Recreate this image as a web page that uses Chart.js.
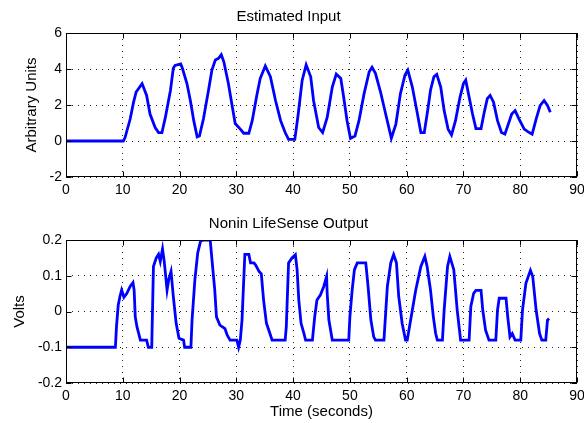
<!DOCTYPE html>
<html>
<head>
<meta charset="utf-8">
<script src="https://cdn.jsdelivr.net/npm/chart.js@4/dist/chart.umd.min.js"></script>
<style>
  body { margin: 0; background: #fff; }
  #wrap { position: relative; width: 584px; height: 423px; background: #fff; }
  #wrap canvas { position: absolute; left: 0; }
</style>
</head>
<body>
<div id="wrap">
  <canvas id="inputChart" width="584" height="200" style="top:0"></canvas>
  <canvas id="outputChart" width="584" height="223" style="top:200px"></canvas>
</div>
<script>
// estimated input (arbitrary units)
const inputTime = [
  0, 10.1, 10.4, 11.3, 11.9, 12.35, 13.4, 14.2, 14.8, 15.7,
  16.3, 16.9, 17.5, 18.4, 18.9, 19.2, 20.2, 20.5, 21.3, 21.9,
  22.5, 23.1, 23.5, 24.2, 25.1, 25.7, 26.3, 26.9, 27.35, 27.8,
  28.6, 29.2, 29.8, 30.7, 31.3, 32.2, 32.8, 33.6, 34.2, 35.1,
  36.0, 36.9, 37.8, 38.6, 39.2, 40.3, 40.9, 41.6, 42.3, 43.1,
  43.6, 44.5, 45.2, 46.0, 46.9, 47.6, 48.4, 48.9, 49.5, 50.1,
  50.9, 51.6, 52.5, 53.4, 53.9, 54.5, 55.4, 56.3, 57.0, 57.3,
  58.1, 58.9, 59.7, 60.2, 61.0, 61.9, 62.5, 63.1, 63.7, 64.2,
  64.8, 65.3, 66.0, 66.6, 67.3, 67.9, 68.6, 69.4, 70.0, 70.4,
  71.0, 71.6, 72.2, 73.1, 73.6, 74.2, 74.7, 75.3, 76.0, 76.7,
  77.3, 77.9, 78.5, 79.1, 79.8, 80.7, 81.6, 82.1, 82.8, 83.5,
  84.2, 84.8, 85.3
];
const inputValue = [
  0, 0, 0.19, 1.22, 2.16, 2.72, 3.19, 2.53, 1.5, 0.75,
  0.47, 0.47, 1.31, 2.82, 4.04, 4.2, 4.28, 4.04, 3.19, 2.25,
  1.13, 0.23, 0.28, 1.22, 2.82, 3.94, 4.5, 4.6, 4.79, 4.4,
  3.19, 2.07, 0.97, 0.66, 0.43, 0.43, 1.13, 2.53, 3.47, 4.17,
  3.57, 2.25, 1.13, 0.47, 0.09, 0.09, 1.5, 3.38, 4.23, 3.57,
  2.25, 0.75, 0.47, 1.31, 3.0, 3.72, 3.47, 2.44, 1.13, 0.15,
  0.28, 1.13, 2.63, 3.85, 4.1, 3.76, 2.72, 1.5, 0.56, 0.15,
  0.94, 2.63, 3.66, 3.94, 3.0, 1.5, 0.47, 0.47, 1.69, 2.82,
  3.57, 3.7, 3.0, 1.69, 0.66, 0.34, 1.13, 2.44, 3.19, 3.38,
  2.44, 1.5, 0.69, 0.69, 1.5, 2.35, 2.53, 2.16, 1.13, 0.47,
  0.38, 0.94, 1.5, 1.69, 1.22, 0.66, 0.47, 0.38, 1.22, 1.97,
  2.25, 1.97, 1.6
];

// sensor output (volts)
const outputTime = [
  0, 8.7, 8.9, 9.2, 9.5, 9.8, 10.2, 10.7, 11.3, 11.8,
  12.0, 12.2, 12.5, 12.8, 13.1, 14.2, 14.5, 15.1, 15.4, 15.9,
  16.3, 16.6, 17.0, 17.3, 17.8, 18.1, 18.5, 18.9, 19.4, 19.9,
  20.7, 20.9, 22.0, 22.2, 22.7, 23.2, 23.7, 24.2, 25.4, 25.6,
  26.2, 26.5, 27.1, 28.0, 28.4, 28.9, 30.1, 30.4, 30.7, 31.0,
  31.5, 32.2, 32.5, 33.1, 33.4, 34.0, 34.4, 34.8, 35.3, 35.9,
  36.3, 38.6, 38.8, 39.2, 39.8, 40.4, 40.7, 41.0, 41.4, 41.9,
  42.2, 43.4, 43.8, 44.2, 44.8, 45.4, 45.9, 46.0, 46.3, 46.9,
  49.8, 50.0, 50.4, 50.8, 51.3, 52.8, 53.2, 53.7, 54.2, 54.5,
  56.0, 56.6, 57.2, 57.7, 58.2, 58.6, 59.2, 59.8, 60.1, 60.7,
  61.6, 62.5, 63.2, 63.6, 64.2, 64.7, 65.1, 65.4, 66.3, 66.6,
  67.2, 67.6, 68.3, 68.9, 69.5, 71.0, 71.3, 71.8, 72.2, 73.1,
  73.4, 73.9, 74.5, 75.7, 76.0, 76.3, 77.5, 77.8, 78.2, 78.6,
  79.1, 80.1, 80.4, 81.0, 81.8, 82.2, 82.8, 83.4, 83.8, 84.5,
  84.8, 85.1
];
const outputValue = [
  -0.1, -0.1, -0.04, 0.018, 0.042, 0.06, 0.04, 0.05, 0.07, 0.081,
  0.06, -0.015, -0.043, -0.061, -0.08, -0.08, -0.1, -0.1, 0.126, 0.15,
  0.16, 0.14, 0.175, 0.14, 0.06, 0.09, 0.112, 0.042, -0.033, -0.075,
  -0.08, -0.1, -0.1, -0.024, 0.089, 0.164, 0.197, 0.2, 0.2, 0.164,
  0.06, -0.015, -0.038, -0.048, -0.066, -0.08, -0.08, -0.1, -0.08, -0.024,
  0.16, 0.16, 0.136, 0.136, 0.13, 0.112, 0.105, 0.032, -0.033, -0.061,
  -0.08, -0.08, -0.043, 0.136, 0.15, 0.159, 0.117, 0.032, -0.033, -0.061,
  -0.08, -0.08, -0.015, 0.032, 0.046, 0.07, 0.098, 0.051, -0.024, -0.08,
  -0.08, -0.015, 0.06, 0.117, 0.136, 0.136, 0.07, -0.024, -0.071, -0.08,
  -0.08, 0.07, 0.136, 0.159, 0.136, 0.042, -0.033, -0.08, -0.08, -0.024,
  0.06, 0.126, 0.154, 0.126, 0.06, -0.015, -0.061, -0.08, -0.08, 0.004,
  0.126, 0.154, 0.117, 0.004, -0.08, -0.08, 0.014, 0.051, 0.059, 0.059,
  0.004, -0.052, -0.08, -0.08, 0.004, 0.037, 0.037, -0.015, -0.071, -0.062,
  -0.08, -0.08, 0.004, 0.079, 0.115, 0.098, 0.004, -0.061, -0.08, -0.08,
  -0.024, -0.02
];

const timeTicks = { min: 0, max: 90, step: 10 };
const inputTicks = { min: -2, max: 6, step: 2 };
const outputTicks = { min: -0.2, max: 0.2, step: 0.1 };

Chart.defaults.font.family = '"Liberation Sans", Arial, sans-serif';
Chart.defaults.color = '#000';
Chart.defaults.animation = false;

// matlab style: closed box with inward tick marks
const boxPlugin = {
  id: 'matlabBox',
  afterDatasetsDraw(chart) {
    const { ctx, chartArea: a, scales: { x, y } } = chart;
    const L = Math.round(a.left) + 0.5, R = Math.round(a.right) - 0.5;
    const T = Math.round(a.top) + 0.5, B = Math.round(a.bottom) - 0.5;
    ctx.save();
    ctx.strokeStyle = '#000';
    ctx.lineWidth = 1;
    ctx.strokeRect(L, T, R - L, B - T);
    ctx.beginPath();
    x.ticks.forEach(t => {
      const px = Math.round(x.getPixelForValue(t.value)) + 0.5;
      ctx.moveTo(px, B); ctx.lineTo(px, B - 5);
      ctx.moveTo(px, T); ctx.lineTo(px, T + 5);
    });
    y.ticks.forEach(t => {
      const py = Math.round(y.getPixelForValue(t.value)) + 0.5;
      ctx.moveTo(L, py); ctx.lineTo(L + 5, py);
      ctx.moveTo(R, py); ctx.lineTo(R - 5, py);
    });
    ctx.stroke();
    ctx.restore();
  }
};

function makeChart(id, xs, ys, opt) {
  const points = xs.map((t, i) => ({ x: t, y: ys[i] }));
  return new Chart(document.getElementById(id), {
    type: 'line',
    data: {
      datasets: [{
        data: points,
        borderColor: '#0000ff',
        borderWidth: 2.8,
        pointRadius: 0,
        tension: 0,
        fill: false
      }]
    },
    options: {
      responsive: false,
      devicePixelRatio: 1,
      layout: { padding: { left: 0, right: 7, top: 0, bottom: 0 } },
      plugins: {
        legend: { display: false },
        tooltip: { enabled: false },
        title: {
          display: true,
          text: opt.title,
          color: '#000',
          font: { size: 15, weight: 'normal' },
          padding: opt.titlePad
        }
      },
      scales: {
        x: {
          type: 'linear',
          min: timeTicks.min,
          max: timeTicks.max,
          ticks: { stepSize: timeTicks.step, padding: 5, font: { size: 14 }, maxRotation: 0 },
          grid: { color: '#222', drawTicks: false, lineWidth: 1 },
          border: { display: false, dash: [1, 5] },
          title: {
            display: !!opt.xTitle,
            text: opt.xTitle || '',
            font: { size: 15 },
            padding: { top: 0, bottom: 2 }
          },
          afterFit(s) { s.height = opt.xHeight; s.paddingLeft = 0; s.paddingRight = 0; }
        },
        y: {
          min: opt.yTicks.min,
          max: opt.yTicks.max,
          ticks: {
            stepSize: opt.yTicks.step,
            padding: 4,
            font: { size: 14 },
            callback: v => String(Number(v.toFixed(2)))
          },
          grid: { color: '#222', drawTicks: false, lineWidth: 1 },
          border: { display: false, dash: [1, 5] },
          title: {
            display: true,
            text: opt.yTitle,
            font: { size: 15 },
            padding: { top: opt.yTitleLeft, bottom: 0 }
          },
          afterFit(s) { s.width = 66; s.paddingTop = 0; s.paddingBottom = 0; }
        }
      }
    },
    plugins: [boxPlugin]
  });
}

makeChart('inputChart', inputTime, inputValue, {
  title: 'Estimated Input',
  titlePad: { top: 7.5, bottom: 7.5 },
  yTitle: 'Arbitrary Units',
  yTitleLeft: 23,
  yTicks: inputTicks,
  xHeight: 23
});

makeChart('outputChart', outputTime, outputValue, {
  title: 'Nonin LifeSense Output',
  titlePad: { top: 15, bottom: 7 },
  yTitle: 'Volts',
  yTitleLeft: 11,
  yTicks: outputTicks,
  xTitle: 'Time (seconds)',
  xHeight: 40
});
</script>
</body>
</html>
